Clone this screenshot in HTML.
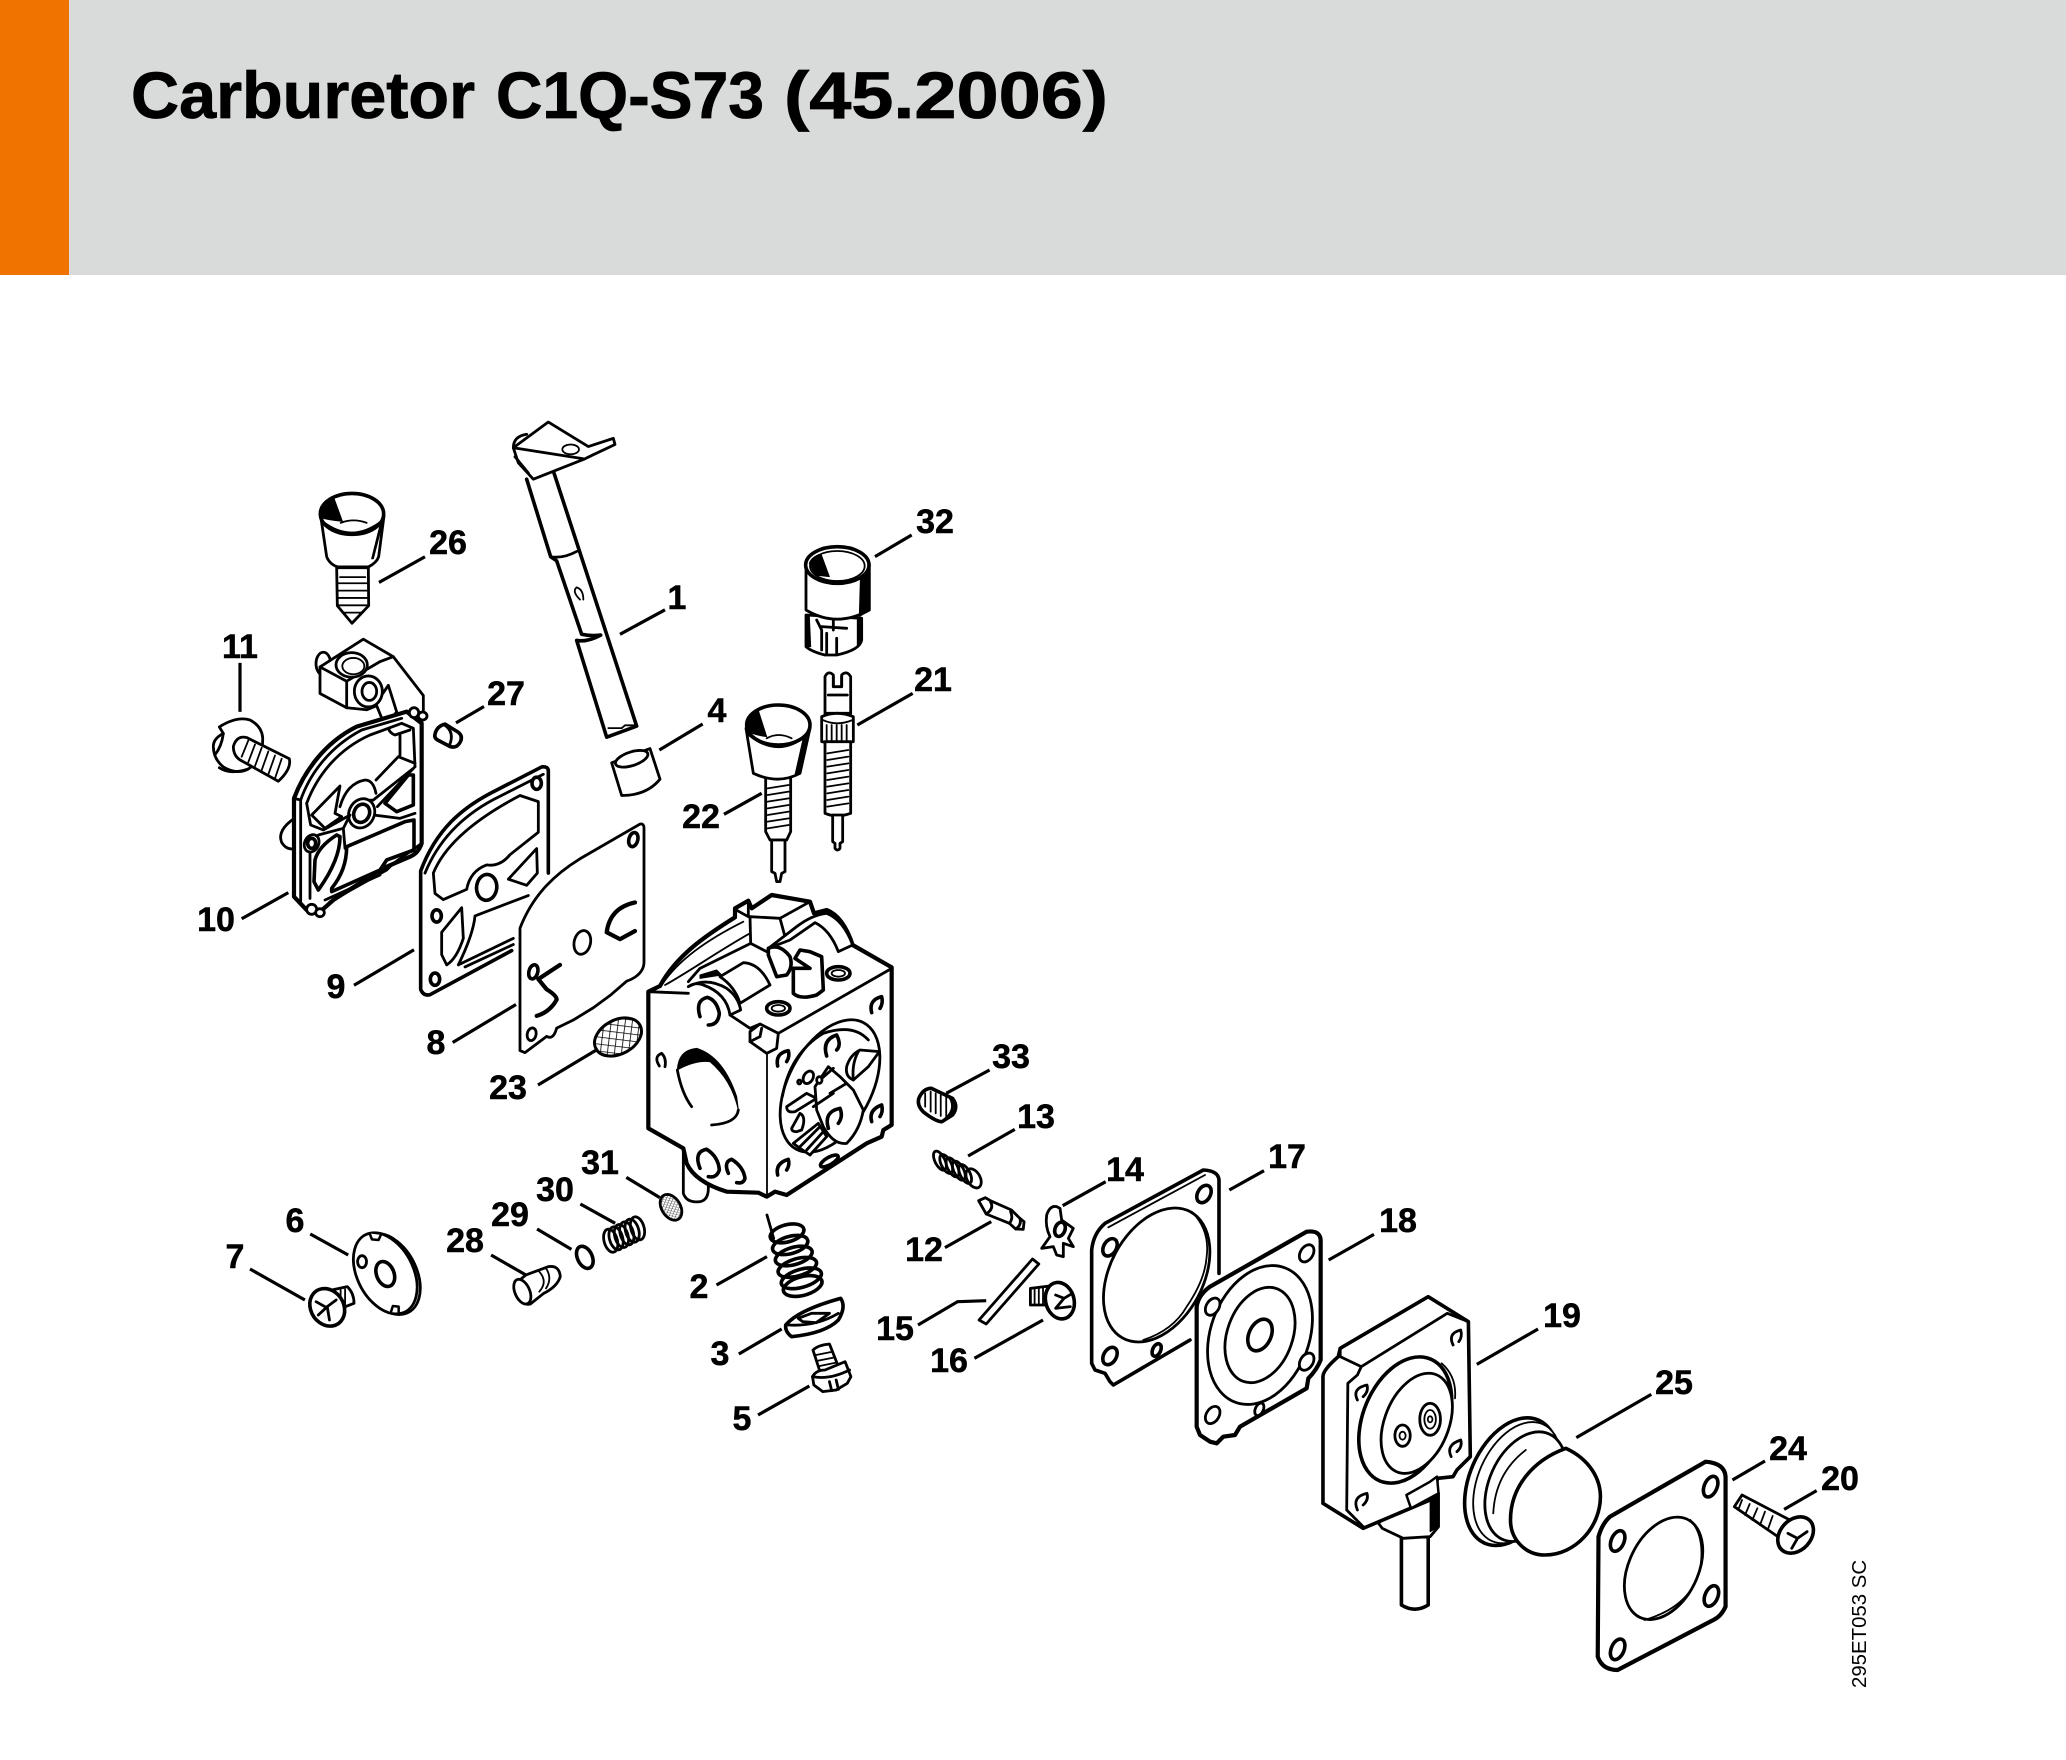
<!DOCTYPE html>
<html><head><meta charset="utf-8"><style>
html,body{margin:0;padding:0;background:#fff}
svg{display:block}
svg *{vector-effect:non-scaling-stroke}
.p path,.p ellipse,.p polygon,.p circle,.p rect{fill:#fff;stroke:#000;stroke-width:2.8;stroke-linejoin:round;stroke-linecap:round}
.p .n{fill:none}
.p .t{stroke-width:1.8}
.p .h{stroke-width:3.6}
.p .o{stroke-width:4.2}
.p .k{fill:#000;stroke:#000;stroke-width:1}
.l line,.l polyline{stroke:#000;stroke-width:3.2;fill:none;stroke-linecap:butt}
.n1{font:bold 34px "Liberation Sans",sans-serif;text-anchor:middle;fill:#000;stroke:#000;stroke-width:.5}
.ti{font:bold 66px "Liberation Sans",sans-serif;fill:#000;stroke:#000;stroke-width:.8}
</style></head><body>
<svg width="2066" height="1760" viewBox="0 0 2066 1760" xmlns="http://www.w3.org/2000/svg">
<defs>
<pattern id="m" width="7" height="7" patternUnits="userSpaceOnUse" patternTransform="rotate(35)">
<rect width="7" height="7" fill="#fff"/><path d="M0 0H7M0 0V7" stroke="#000" stroke-width="1.6" fill="none"/>
</pattern>
</defs>
<rect width="2066" height="1760" fill="#fff"/>
<rect width="2066" height="275" fill="#d9dbda"/>
<rect width="69" height="275" fill="#f07300"/>
<text class="ti" x="131" y="118" textLength="344" lengthAdjust="spacingAndGlyphs">Carburetor</text>
<text class="ti" x="496" y="118" textLength="268" lengthAdjust="spacingAndGlyphs">C1Q-S73</text>
<text class="ti" x="784" y="118" textLength="324" lengthAdjust="spacingAndGlyphs">(45.2006)</text>

<!-- bracket of 10 -->
<g class="p" transform="translate(180,420) scale(.33333,.40816)">
<path class="n" d="M345,975 Q290,1005 305,1035 Q320,1055 345,1050"/>
<ellipse cx="430" cy="597" rx="22" ry="28" style="fill:none"/>
<path d="M420,605 L550,537 L640,580 L730,675 L730,735 L620,760 L590,700 L560,710 L500,705 L420,670 Z"/>
<path class="n" d="M420,605 L500,640 L500,705 M500,640 L600,592 L640,580"/>
<path class="n" d="M600,680 L625,650 L650,715 L620,745"/>
<ellipse cx="515" cy="600" rx="47" ry="30"/><ellipse class="n t" cx="520" cy="603" rx="33" ry="20"/>
<ellipse cx="565" cy="665" rx="42" ry="38"/><ellipse cx="568" cy="665" rx="22" ry="22"/>
</g>

<!-- 10 body -->
<g class="p" transform="translate(290,700) scale(.33333)">
<path class="o" d="M12,295 C40,220 100,130 200,80 L350,35 L395,70 L395,430 Q385,460 360,470 L290,500 L240,530 L130,600 L85,640 L50,630 L12,590 Z"/>
<path class="n" d="M32,300 C60,220 120,140 215,90 L335,55"/>
<path class="n" d="M50,310 C80,230 140,150 240,105 L335,70 L370,85 L375,200 M32,300 L32,605 M12,295 L32,300"/>
<path class="n" d="M50,310 L60,365 L62,375 L100,390 L180,345"/>
<path d="M65,345 L150,258 L135,340 L155,350 L105,385 Z"/>
<path class="n" d="M150,320 Q170,250 225,240 Q250,240 258,280 M258,240 L325,170 L375,190 M330,105 L330,165 M295,85 Q300,100 315,105 L360,90"/>
<path class="n" d="M250,345 L330,355 L375,340 M262,320 L375,200 M250,300 L370,205 M180,345 Q200,300 250,300"/>
<path d="M285,310 L355,225 L370,225 L370,315 L320,335 Z" class="h"/>
<ellipse cx="215" cy="340" rx="38" ry="45" transform="rotate(25 215 340)"/>
<ellipse cx="215" cy="340" rx="23" ry="28" transform="rotate(25 215 340)" class="h"/>
<ellipse cx="65" cy="430" rx="21" ry="27" transform="rotate(25 65 430)"/><ellipse cx="65" cy="430" rx="12" ry="15" class="h"/>
<path d="M75,480 Q85,440 140,405 L150,410 Q150,480 85,570 L72,545 Z" class="h"/>
<path d="M170,440 L345,365 L372,360 L372,450 L290,480 L270,510 L125,575 L125,565 Q170,510 170,440 Z" class="h"/>
<path class="n" d="M120,605 L290,510 L310,490 L395,430 M60,595 L60,460 M105,600 L270,525 M85,405 L160,385 L180,345 M160,385 L165,445"/>
<ellipse cx="65" cy="628" rx="15" ry="15"/><ellipse cx="90" cy="638" rx="13" ry="12"/>
<ellipse cx="372" cy="38" rx="14" ry="15"/><ellipse cx="398" cy="48" rx="13" ry="12"/>
</g>

<!-- Z2 parts -->
<g class="p" transform="translate(180,420) scale(.33333,.40816)">
<!-- 26 -->
<path d="M422,235 L440,335 Q450,355 475,360 L565,360 Q590,350 596,335 L612,235 Z"/>
<ellipse cx="516" cy="230" rx="95" ry="50" class="h"/>
<path class="k" d="M423,225 Q435,200 462,192 L487,248 Q450,245 426,240 Z"/>
<path class="n" d="M428,250 Q516,305 606,248"/>
<path class="k" d="M580,340 L610,245 L604,245 L575,340Z"/>
<path class="n t" d="M482,252 Q520,240 560,252"/>
<path d="M470,362 L472,455 L516,498 L566,455 L565,362 Z"/>
<path class="n t" d="M480,385H556M476,400H562M476,418H562M476,436H562M476,454H562M488,472L545,472"/>
<!-- 11 -->
<path d="M100,800 Q100,780 130,768 L118,752 Q170,725 210,735 Q245,750 248,778 Q250,830 205,855 Q170,870 130,850 Q100,830 100,800 Z"/>
<path class="n" d="M105,820 Q125,800 130,768 M118,852 Q150,870 205,855"/>
<path d="M160,800 Q170,772 200,778 L328,830 Q335,855 295,885 L185,835 Q160,825 160,800Z"/>
<path class="n t" d="M205,785L185,825M225,795L205,838M245,803L225,848M265,812L245,858M285,822L265,868M305,830L285,878"/>
<!-- 27 -->
<path d="M765,770 Q770,750 795,745 L835,765 Q850,775 840,790 Q830,805 810,800 L775,785 Q762,780 765,770Z" class="h"/>
<path class="n" d="M795,748 Q825,765 808,798"/>
<!-- 1 -->
<path d="M1040,145 L1112,330 Q1150,345 1190,322 L1122,130 Z" style="stroke:none"/>
<path d="M1130,345 L1205,525 L1280,525 L1200,325 Z" style="stroke:none"/>
<path d="M1190,540 L1280,775 L1370,755 L1265,515 Z" style="stroke:none"/>
<path class="n h" d="M1122,130 L1370,750 L1280,777 L1190,540 Q1220,545 1262,527 Q1230,530 1205,525 L1130,345 L1112,335 L1040,145"/>
<path class="n" d="M1112,335 Q1150,340 1190,322"/>
<path class="n t" d="M1285,755 L1325,755 L1335,748 L1365,748"/>
<path class="n t" d="M1200,440 Q1175,420 1190,410 Q1210,415 1210,440"/>
<path d="M1000,68 L1105,5 L1225,65 L1300,45 L1305,60 L1240,85 L1215,95 L1060,145 L1015,105 Z"/>
<path class="n" d="M1000,68 L1210,95 M1000,68 Q1000,40 1040,35 M1005,90 L1045,130"/>
<ellipse cx="1172" cy="72" rx="25" ry="12" class="t n"/>
<!-- 4 -->
<path d="M1295,840 L1410,805 L1440,880 Q1400,920 1325,920 Z"/>
<ellipse cx="1355" cy="830" rx="50" ry="17" transform="rotate(-14 1355 830)"/>
<!-- 9 -->
<path class="h" d="M1105,1110 L1105,860 Q1105,848 1085,850 L930,915 C850,950 770,1000 722,1105 L722,1395 Q730,1412 750,1408 L995,1300"/>
<path class="n" d="M735,1110 C780,1020 860,965 940,930 L1090,868"/>
<path d="M760,1110 Q810,1010 1020,920 L1075,935 L1075,1010 L990,1065 Q960,1095 920,1090 Q870,1105 860,1150 L790,1175 L765,1160 Z"/>
<path d="M985,1125 L1070,1050 L1072,1110 L1040,1140 Z"/>
<ellipse cx="920" cy="1145" rx="30" ry="32" class="h" transform="rotate(25 920 1145)"/>
<ellipse cx="1070" cy="890" rx="14" ry="15" class="h"/><ellipse cx="770" cy="1215" rx="14" ry="15" class="h"/><ellipse cx="765" cy="1370" rx="14" ry="15" class="h"/>
<path d="M785,1255 L845,1195 L850,1270 Q830,1320 800,1335 L785,1310 Z"/>
<path class="n" d="M835,1335 Q880,1260 885,1215 L1045,1165 M835,1335 L1000,1270 M855,1340 L1000,1285"/>
<!-- 8 -->
<path d="M1020,1245 C1060,1160 1130,1110 1200,1075 L1380,990 Q1392,988 1392,1000 L1392,1330 Q1390,1360 1340,1375 L1290,1410 L1240,1440 L1180,1470 L1130,1490 Q1120,1520 1100,1510 L1035,1550 L1020,1545 Z"/>
<ellipse cx="1360" cy="1028" rx="13" ry="18" class="h" transform="rotate(25 1360 1028)"/>
<ellipse cx="1060" cy="1352" rx="13" ry="18" class="h" transform="rotate(25 1060 1352)"/>
<ellipse cx="1055" cy="1505" rx="13" ry="16" transform="rotate(25 1055 1505)"/>
<ellipse cx="1207" cy="1280" rx="24" ry="30" transform="rotate(25 1207 1280)"/>
<path class="n o" d="M1365,1182 Q1290,1195 1280,1255 L1320,1272 L1365,1252"/>
<path class="n o" d="M1140,1335 L1075,1370 L1100,1395 Q1130,1410 1130,1420 Q1110,1450 1070,1460"/>
</g>

<!-- 23 mesh -->
<ellipse cx="618" cy="1037" rx="25" ry="17" transform="rotate(-28 618 1037)" fill="url(#m)" stroke="#000" stroke-width="3"/>

<!-- Z3 parts -->
<g class="p" transform="translate(620,420) scale(.33333)">
<!-- 32 -->
<path d="M558,585 L558,680 Q575,695 615,705 L650,705 Q720,690 725,660 L725,595 Z"/>
<path class="k" d="M560,590 H568 L572,680 L560,680Z"/>
<path class="k" d="M712,600H725V665L712,675Z"/>
<path class="n" d="M590,600 L605,630 L605,690 M620,640 L620,700 M650,655 L650,700 M605,620 L680,625 M640,600 V630"/>
<path d="M558,435 L558,570 Q650,625 748,570 L748,435 Z"/>
<path class="k" d="M722,450 L748,440 L748,570 L718,590Z"/>
<ellipse cx="652" cy="435" rx="95" ry="55" class="h"/>
<ellipse cx="652" cy="438" rx="82" ry="45" class="n t"/>
<path class="k" d="M568,430 Q575,410 603,402 L628,470 L585,465 Z"/>
<!-- 21 -->
<path d="M615,880 L615,770 Q625,750 640,765 L640,800 L665,800 L665,765 Q680,750 692,770 L692,880 Z"/>
<path class="n" d="M625,825 L682,825 M640,770V800M665,770V800"/>
<path d="M605,890 Q650,870 700,890 L700,965 Q650,975 605,965 Z"/>
<path class="n t" d="M620,915V970M635,915V970M650,915V970M665,915V970M680,915V970M608,900 Q650,920 698,900"/>
<path d="M615,965 L615,1180 Q650,1195 692,1180 L692,965 Z"/>
<path class="n t" d="M622,1000L685,990M622,1020L685,1010M622,1040L685,1030M622,1060L685,1050M622,1080L685,1070M622,1100L685,1090M622,1120L685,1110M622,1140L685,1130M622,1160L685,1150"/>
<path d="M638,1185 L638,1265 L645,1270 L645,1285 Q652,1295 660,1285 L660,1270 L668,1265 L668,1185 Z"/>
<!-- 22 -->
<path d="M437,1070 L437,1235 L450,1260 L500,1260 L512,1235 L512,1070 Z"/>
<path class="n t" d="M443,1105L506,1095M443,1125L506,1115M443,1145L506,1135M443,1165L506,1155M443,1185L506,1175M443,1205L506,1195M443,1225L506,1215"/>
<path d="M455,1260 L455,1355 L465,1360 L470,1385 L480,1385 L485,1360 L495,1355 L495,1260 Z"/>
<path d="M378,925 L400,1060 Q475,1095 540,1060 L570,925 Z"/>
<path class="k" d="M535,1060 L560,945 L552,945 L525,1065Z"/>
<ellipse cx="475" cy="915" rx="95" ry="60" class="h"/>
<path class="k" d="M380,915 Q390,885 416,875 L440,950 Q405,945 385,935 Z"/>
<path class="n" d="M388,945 Q475,1015 560,945"/>
<path class="n t" d="M440,955 Q475,935 515,955"/>
</g>

<!-- Z4 carburetor body -->
<g class="p" transform="translate(620,880) scale(.33333)">
<path d="M190,800 L190,940 Q200,970 240,965 Q265,960 265,925 L265,800 Z"/>
<path d="M85,335 L120,318 C170,225 260,165 345,112 L345,85 L385,62 L395,85 L455,45 L570,65 L582,100 L620,90 Q670,110 698,195 L815,262 L815,735 L790,750 L785,770 L740,790 L500,945 L465,935 L440,950 L415,938 L320,935 Q225,905 200,850 L190,805 L85,745 Z" class="o"/>
<path class="n t" d="M125,315 C175,240 260,180 370,125 M135,315 C200,280 300,210 390,160"/>
<path class="n" d="M345,88 L385,110 L385,62 M390,110 L480,115 L570,65 M480,115 L495,170 M390,110 L392,190 L440,215 M392,190 L240,265 L205,305"/>
<path class="n" d="M205,320 Q260,290 320,325 Q355,350 362,390 L330,405 Q320,340 250,315 Q225,305 205,320"/>
<path d="M300,290 L370,248 Q420,250 450,315 L360,370 Q345,320 300,290Z"/>
<path class="k" d="M240,285 L290,270 L305,285 L240,295Z"/>
<path d="M445,205 L530,140 Q575,105 620,100 Q670,120 698,195 L655,215 Q630,150 585,128 L510,180 Z"/>
<path d="M445,205 Q480,190 510,230 Q520,260 500,285 L470,290 L445,225 Z" class="h"/>
<path d="M520,265 L520,340 Q540,360 590,345 L610,330 L605,230 L570,215 L540,210 L525,235 L570,265 Z" class="h"/>
<ellipse cx="655" cy="280" rx="35" ry="20" class="h"/><ellipse cx="655" cy="280" rx="20" ry="10" class="n t"/>
<ellipse cx="475" cy="385" rx="35" ry="20" class="h"/><ellipse cx="475" cy="385" rx="20" ry="10" class="n t"/>
<path class="n" d="M85,335 L205,340 M330,405 L390,445 L420,432 L475,460 L810,268"/>
<path d="M390,455 L420,432 L475,460 L470,505 L440,520 L390,485 Z"/>
<path class="n" d="M390,485 L420,470 L425,445"/>
<path class="n t" d="M441,520 L441,950"/>
<!-- left holes -->
<path class="n h" d="M240,410 Q225,360 262,352 Q290,360 298,400 Q295,435 265,435"/>
<path class="n" d="M118,558 Q100,530 125,520 Q140,535 135,560"/>
<path class="k" d="M172,570 Q175,510 230,505 Q310,530 350,650 L355,690 Q335,600 270,545 Q225,540 172,570 Z"/>
<path class="n" d="M172,570 Q185,640 215,680 M355,690 Q350,730 275,735"/>
<path class="n h" d="M240,865 Q220,815 260,808 Q295,830 298,870 Q290,895 265,890"/>
<path class="n h" d="M325,880 Q310,845 335,838 Q370,860 375,895 Q370,912 350,908"/>
<!-- right holes -->
<path class="n h" d="M755,398 Q745,360 785,350 Q790,370 780,385"/>
<path class="n h" d="M473,558 Q465,520 505,512 Q510,530 500,545"/>
<path class="n h" d="M755,725 Q745,690 785,675 Q790,695 780,710"/>
<path class="n h" d="M473,885 Q465,850 505,838 Q510,855 500,870"/>
<ellipse cx="628" cy="843" rx="30" ry="11" transform="rotate(-30 628 843)" class="h"/>
<!-- round window -->
<ellipse cx="630" cy="618" rx="125" ry="215" transform="rotate(28 630 618)"/>
<path class="n" d="M487,650 Q510,520 610,460 Q700,430 745,480"/>
<path class="n h" d="M620,528 Q605,480 650,465 Q665,495 650,510"/>
<path d="M680,560 Q690,525 720,510 L778,515 L745,560 L700,600 Q675,590 680,560Z"/>
<path class="n" d="M715,515 Q695,550 700,600"/>
<path d="M500,680 L560,640 L590,655 L525,695 Q500,700 500,680Z"/>
<path d="M585,620 L625,560 L660,590 L700,630 L730,690 Q720,750 680,790 Q640,795 610,740 L590,690 Z"/>
<path class="n" d="M600,600 L640,565 M630,640 L680,610 M580,680 L640,640"/>
<ellipse cx="598" cy="600" rx="8" ry="10"/>
<ellipse cx="565" cy="592" rx="14" ry="20" transform="rotate(30 565 592)"/><ellipse cx="538" cy="606" rx="5" ry="6"/>
<path class="n h" d="M625,745 Q610,695 660,685 Q670,710 655,730"/>
<path d="M515,745 L540,700 Q560,710 545,750 L530,755 Q515,755 515,745Z"/>
<path d="M520,790 L595,730 L620,770 L570,825 L540,805 Z"/>
<path class="n" d="M540,800 L600,740 M560,810 L610,755"/>
</g>

<!-- Z5 parts -->
<g class="p" transform="translate(200,1150) scale(.44643,.33333)">
<!-- 6 -->
<ellipse cx="422" cy="372" rx="65" ry="125" transform="rotate(-16 422 372)" class="n"/>
<ellipse cx="415" cy="370" rx="65" ry="125" transform="rotate(-16 415 370)"/>
<path d="M380,250L385,268L400,270L405,255" style="stroke-width:2.5"/>
<path d="M428,485L432,468L445,470L445,487" style="stroke-width:2.5"/>
<ellipse cx="415" cy="372" rx="20" ry="38" transform="rotate(-12 415 372)" class="h"/>
<ellipse cx="363" cy="335" rx="10" ry="18"/>
<!-- 7 -->
<path d="M295,420 L330,410 Q345,430 345,460 L310,478 Z"/>
<path class="n t" d="M315,420V470M325,418V465"/>
<ellipse cx="285" cy="472" rx="38" ry="57" transform="rotate(-12 285 472)" class="h"/>
<path class="n" d="M260,455L280,470M265,495L285,470L305,450M285,470L290,510"/>
<!-- 28 -->
<path d="M705,410 Q710,395 730,375 L780,350 Q805,345 807,380 Q800,410 770,430 L740,462 Q715,470 705,410 Z"/>
<ellipse cx="722" cy="425" rx="17" ry="38" transform="rotate(-15 722 425)"/>
<path class="n t" d="M760,365 Q780,395 760,425 M775,355 Q790,385 775,415"/>
<!-- 29 -->
<ellipse cx="862" cy="322" rx="17" ry="34" transform="rotate(-15 862 322)" class="h"/>
<!-- 30 -->
<g><ellipse class="n" cx="920" cy="272" rx="15" ry="35" transform="rotate(-10 920 272)"/><ellipse class="n" cx="932" cy="265" rx="15" ry="35" transform="rotate(-10 932 265)"/><ellipse class="n" cx="944" cy="258" rx="15" ry="35" transform="rotate(-10 944 258)"/><ellipse class="n" cx="956" cy="250" rx="15" ry="35" transform="rotate(-10 956 250)"/><ellipse class="n" cx="968" cy="242" rx="15" ry="35" transform="rotate(-10 968 242)"/><ellipse class="n" cx="980" cy="235" rx="15" ry="35" transform="rotate(-10 980 235)"/></g>
<!-- 31 -->
<ellipse cx="1055" cy="172" rx="22" ry="40" transform="rotate(-18 1055 172)" style="fill:url(#m)"/>
<!-- 2 spring -->
<path class="n" d="M1270,195 L1285,265"/>
<ellipse class="n h" cx="1315" cy="250" rx="40" ry="25" transform="rotate(-25 1315 250)"/>
<ellipse class="n h" cx="1322" cy="285" rx="42" ry="25" transform="rotate(-25 1322 285)"/>
<ellipse class="n h" cx="1330" cy="318" rx="44" ry="25" transform="rotate(-25 1330 318)"/>
<ellipse class="n h" cx="1338" cy="352" rx="46" ry="25" transform="rotate(-25 1338 352)"/>
<ellipse class="n h" cx="1347" cy="385" rx="48" ry="26" transform="rotate(-25 1347 385)"/>
<ellipse class="n h" cx="1350" cy="408" rx="46" ry="27" transform="rotate(-25 1350 408)"/>
<!-- 3 -->
<path d="M1312,525 Q1340,480 1435,445 Q1448,470 1430,510 Q1400,550 1325,560 Q1310,545 1312,525 Z" class="h"/>
<path class="n" d="M1318,525 Q1380,530 1430,490"/>
<path d="M1340,505 L1370,490 L1410,490 L1380,518 L1350,515 Z"/>
<!-- 5 -->
<path d="M1373,600 Q1385,585 1410,582 L1430,650 L1390,670 Z"/>
<path class="n t" d="M1380,615L1418,605M1385,632L1422,622M1388,648L1425,638"/>
<path d="M1372,680 Q1380,660 1400,660 L1445,635 L1458,680 L1450,700 L1425,720 L1395,725 L1375,705 Z"/>
<path class="n" d="M1372,680 Q1410,690 1455,660 M1410,695 L1415,722 M1425,690 L1430,718"/>
</g>

<!-- Z6 parts -->
<g class="p" transform="translate(700,1030) scale(.42088,.33333)">
<!-- 33 -->
<path d="M520,205 Q530,175 550,175 L600,205 Q615,230 600,255 L575,275 Q560,275 530,245 Q515,225 520,205 Z" class="h"/>
<path class="n t" d="M535,190 L535,230 M548,185 L548,245 M560,190 L560,250 M572,195 L572,258 M585,200 L585,265"/>
<path class="n" d="M595,205 Q610,240 580,270"/>
<!-- 13 -->
<g><ellipse class="n" cx="570" cy="392" rx="12" ry="30" transform="rotate(-20 570 392)"/><ellipse class="n" cx="585" cy="402" rx="12" ry="30" transform="rotate(-20 585 402)"/><ellipse class="n" cx="600" cy="412" rx="12" ry="30" transform="rotate(-20 600 412)"/><ellipse class="n" cx="615" cy="422" rx="12" ry="30" transform="rotate(-20 615 422)"/><ellipse class="n" cx="630" cy="432" rx="12" ry="30" transform="rotate(-20 630 432)"/><ellipse class="n" cx="650" cy="445" rx="16" ry="30" transform="rotate(-20 650 445)"/></g>
<!-- 12 -->
<path d="M662,512 L678,503 L690,512 L740,540 L760,565 L770,575 L768,598 L750,597 L735,580 L680,552 Z"/>
<path class="n" d="M690,515 Q700,535 680,552 M738,545 Q745,565 735,580 M760,565 Q765,585 750,597"/>
<!-- 15 -->
<path d="M663,870 L790,687 L805,702 L680,882 Z"/>
<!-- 16 -->
<path d="M785,775 L850,765 L850,825 L785,825 Z"/>
<path class="n t" d="M795,775V825M805,775V825M815,772V825M825,770V825M835,770V825"/>
<ellipse cx="855" cy="812" rx="34" ry="55" transform="rotate(-8 855 812)" class="h"/>
<path class="n" d="M845,795L865,805L885,790M865,805L845,835L880,830"/>
</g>

<!-- Z8: 14, 17, 18 -->
<g class="p" transform="translate(1040,1140) scale(.33333)">
<path d="M20,225 Q30,195 50,200 L60,205 L65,240 L100,265 L85,295 L100,320 L70,310 L70,350 L50,345 L40,320 L5,325 L30,290 Q15,260 20,225Z"/>
<ellipse cx="60" cy="268" rx="15" ry="22" transform="rotate(20 60 268)" class="h"/>
<path class="h" d="M537,400 L537,120 Q535,92 490,90 L195,250 Q160,280 155,330 L155,670 L165,690 L195,700 L210,725 L220,735 L450,600"/>
<path class="n t" d="M205,262 L495,105"/>
<ellipse cx="350" cy="405" rx="140" ry="215" transform="rotate(28 350 405)"/>
<path class="n t" d="M455,215 Q510,270 500,350 Q495,420 440,500 Q400,570 310,600"/>
<ellipse cx="492" cy="162" rx="19" ry="28" transform="rotate(30 492 162)" class="h"/>
<ellipse cx="210" cy="322" rx="19" ry="28" transform="rotate(30 210 322)" class="h"/>
<ellipse cx="210" cy="648" rx="19" ry="28" transform="rotate(30 210 648)" class="h"/>
<ellipse cx="350" cy="630" rx="12" ry="20" transform="rotate(25 350 630)" class="h"/>
<path d="M470,500 Q475,465 510,440 L800,275 Q840,270 842,300 L842,660 Q830,690 805,715 L800,745 L600,860 L585,885 L550,890 L530,910 L510,905 L480,885 L470,860 Z" class="o"/>
<ellipse cx="660" cy="585" rx="148" ry="215" transform="rotate(20 660 585)"/>
<ellipse cx="660" cy="585" rx="98" ry="148" transform="rotate(20 660 585)"/>
<ellipse cx="660" cy="585" rx="33" ry="50" transform="rotate(25 660 585)" class="h"/>
<ellipse cx="800" cy="340" rx="19" ry="28" transform="rotate(32 800 340)"/>
<ellipse cx="518" cy="500" rx="19" ry="28" transform="rotate(32 518 500)"/>
<ellipse cx="800" cy="665" rx="19" ry="28" transform="rotate(32 800 665)"/>
<ellipse cx="518" cy="825" rx="19" ry="28" transform="rotate(32 518 825)"/>
<ellipse cx="658" cy="808" rx="12" ry="20" transform="rotate(25 658 808)"/>
</g>

<!-- Z7 parts -->
<g class="p" transform="translate(1300,1260) scale(.38270,.33333)">
<!-- 19 -->
<path d="M265,830 L265,1035 Q300,1060 335,1035 L335,830 Z" class="h"/>
<path d="M205,790 L215,805 L270,835 L340,830 L362,800 L362,700 L280,700 Z"/>
<path class="k" d="M340,700L362,695L362,800L340,815Z"/>
<path d="M60,350 Q60,330 100,290 L105,265 L335,110 L440,185 L445,590 L410,630 L400,650 L360,655 L340,720 L165,805 L60,730 Z" class="h"/>
<path class="n" d="M105,265 L105,290 L160,320 L150,345 L125,370 L122,750 L165,800 M160,320 L385,160 L440,185"/>
<ellipse cx="275" cy="480" rx="112" ry="195" transform="rotate(17 275 480)" class="h"/>
<path class="n t" d="M370,310 Q410,350 405,415"/>
<ellipse cx="305" cy="490" rx="85" ry="155" transform="rotate(17 305 490)" />
<ellipse cx="340" cy="478" rx="27" ry="48"/><ellipse cx="340" cy="478" rx="15" ry="28" class="t"/><ellipse cx="340" cy="478" rx="6" ry="9" class="t"/>
<ellipse cx="268" cy="527" rx="20" ry="32"/><ellipse cx="268" cy="527" rx="8" ry="12" class="t"/>
<path class="n" d="M400,255 Q385,220 420,210 Q425,230 415,245"/>
<path class="n" d="M150,420 Q135,385 175,375 Q180,395 165,410"/>
<path class="n" d="M395,590 Q380,555 420,540 Q425,560 410,575"/>
<path class="n" d="M150,750 Q135,710 175,700 Q180,720 165,735"/>
<path d="M278,705 L340,665 L358,650 L362,700 L290,745 Z" style="stroke-width:2.5"/>
<!-- 25 -->
<ellipse cx="553" cy="665" rx="112" ry="198" transform="rotate(18 553 665)" class="h"/>
<ellipse cx="568" cy="668" rx="105" ry="188" transform="rotate(18 568 668)" class="t"/>
<ellipse cx="590" cy="680" rx="98" ry="170" transform="rotate(18 590 680)"/>
<path d="M550,780 C550,680 610,600 695,565 C760,600 785,660 785,710 C785,800 720,885 640,885 C590,885 550,840 550,780Z" class="h"/>
<path class="n t" d="M505,760 Q510,640 590,570"/>
<!-- 24 -->
<path d="M780,830 Q790,790 810,770 L1060,605 Q1110,610 1112,650 L1112,1040 Q1100,1070 1080,1080 L830,1230 Q790,1230 778,1190 Z" class="o"/>
<ellipse cx="950" cy="925" rx="92" ry="160" transform="rotate(20 950 925)"/>
<path class="n t" d="M1020,780 Q1060,830 1045,930 Q1020,1040 900,1080"/>
<ellipse cx="1073" cy="680" rx="17" ry="32" transform="rotate(18 1073 680)" class="h"/>
<ellipse cx="830" cy="843" rx="17" ry="32" transform="rotate(18 830 843)" class="h"/>
<ellipse cx="1075" cy="1008" rx="17" ry="32" transform="rotate(18 1075 1008)" class="h"/>
<ellipse cx="830" cy="1168" rx="17" ry="32" transform="rotate(18 830 1168)" class="h"/>
<!-- 20 -->
<path d="M1135,740 L1155,705 L1280,780 L1255,835 Z"/>
<path class="n t" d="M1155,720L1145,750M1175,732L1163,765M1195,745L1182,780M1215,755L1202,795M1235,768L1222,810"/>
<ellipse cx="1295" cy="825" rx="42" ry="58" transform="rotate(30 1295 825)" class="h"/>
<path class="n" d="M1275,820L1300,835L1325,815M1300,835L1285,865"/>
</g>

<!-- leaders -->
<g class="l">
<g transform="translate(180,420) scale(.33333,.40816)">
<line x1="597" y1="398" x2="735" y2="335"/><line x1="180" y1="595" x2="180" y2="715"/><line x1="828" y1="742" x2="912" y2="702"/><line x1="185" y1="1222" x2="325" y2="1158"/><line x1="522" y1="1385" x2="702" y2="1298"/><line x1="818" y1="1525" x2="1008" y2="1432"/><line x1="1320" y1="525" x2="1455" y2="465"/>
</g>
<g transform="translate(620,420) scale(.33333)">
<line x1="765" y1="410" x2="875" y2="345"/><line x1="712" y1="915" x2="878" y2="820"/><line x1="118" y1="990" x2="248" y2="912"/><line x1="312" y1="1183" x2="425" y2="1120"/>
</g>
<line x1="538" y1="1085" x2="598" y2="1049"/>
<g transform="translate(200,1150) scale(.44643,.33333)">
<line x1="955" y1="82" x2="1030" y2="143"/><line x1="852" y1="162" x2="930" y2="220"/><line x1="755" y1="237" x2="832" y2="298"/><line x1="652" y1="315" x2="730" y2="375"/><line x1="247" y1="252" x2="332" y2="315"/><line x1="112" y1="357" x2="235" y2="450"/><line x1="1157" y1="405" x2="1270" y2="320"/><line x1="1207" y1="612" x2="1303" y2="537"/><line x1="1250" y1="795" x2="1365" y2="708"/>
</g>
<g transform="translate(700,1030) scale(.42088,.33333)">
<line x1="585" y1="190" x2="688" y2="120"/><line x1="637" y1="378" x2="748" y2="298"/><line x1="582" y1="653" x2="692" y2="575"/><polyline points="518,885 612,815 680,812"/><line x1="652" y1="985" x2="815" y2="870"/>
</g>
<g transform="translate(1040,1140) scale(.33333)">
<line x1="68" y1="197" x2="197" y2="125"/><line x1="568" y1="150" x2="672" y2="92"/><line x1="866" y1="360" x2="1002" y2="283"/>
</g>
<g transform="translate(1300,1260) scale(.38270,.33333)">
<line x1="462" y1="313" x2="622" y2="207"/><line x1="722" y1="533" x2="918" y2="403"/><line x1="1130" y1="660" x2="1215" y2="603"/><line x1="1265" y1="748" x2="1350" y2="692"/>
</g>
</g>

<!-- labels -->
<g class="n1">
<text x="448" y="554">26</text>
<text x="677" y="609">1</text>
<text x="935" y="533">32</text>
<text x="240" y="658">11</text>
<text x="506" y="705">27</text>
<text x="933" y="691">21</text>
<text x="717" y="722">4</text>
<text x="701" y="828">22</text>
<text x="216" y="931">10</text>
<text x="336" y="998">9</text>
<text x="436" y="1054">8</text>
<text x="508" y="1099">23</text>
<text x="1011" y="1068">33</text>
<text x="1036" y="1128">13</text>
<text x="1125" y="1181">14</text>
<text x="1287" y="1168">17</text>
<text x="600" y="1174">31</text>
<text x="555" y="1201">30</text>
<text x="510" y="1226">29</text>
<text x="465" y="1252">28</text>
<text x="295" y="1232">6</text>
<text x="235" y="1268">7</text>
<text x="699" y="1298">2</text>
<text x="720" y="1365">3</text>
<text x="742" y="1430">5</text>
<text x="924" y="1261">12</text>
<text x="895" y="1340">15</text>
<text x="949" y="1372">16</text>
<text x="1398" y="1232">18</text>
<text x="1562" y="1327">19</text>
<text x="1674" y="1394">25</text>
<text x="1788" y="1460">24</text>
<text x="1840" y="1490">20</text>
</g>
<text transform="translate(1866,1688) rotate(-90)" font-family="Liberation Sans" font-size="20.4" fill="#000">295ET053 SC</text>
</svg>
</body></html>
